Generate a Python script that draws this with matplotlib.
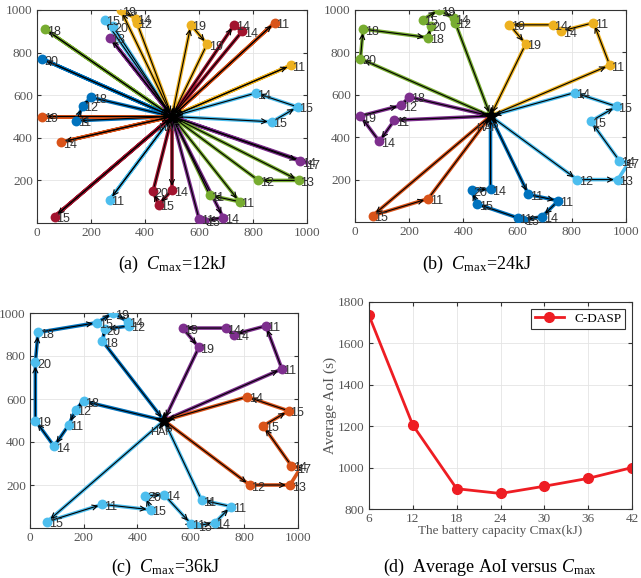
import matplotlib.pyplot as plt
import numpy as np

plt.rcParams['font.family'] = 'Liberation Serif'
plt.rcParams['mathtext.fontset'] = 'custom'
plt.rcParams['mathtext.rm'] = 'Liberation Serif'
plt.rcParams['mathtext.it'] = 'Liberation Serif:italic'

# MATLAB default colours
BLUE = '#0072BD'
ORANGE = '#D95319'
YELLOW = '#EDB120'
PURPLE = '#7E2F8E'
GREEN = '#77AC30'
LBLUE = '#4DBEEE'
RED = '#A2142F'

# ground nodes (x, y in m) and their labels
node_x = [30, 20, 250, 280, 310, 365, 370, 270, 570, 630,
          730, 760, 880, 940, 200, 170, 145, 20, 90, 810,
          965, 870, 975, 1010, 820, 970, 270, 65, 430, 500,
          450, 640, 750, 690, 600, 620]
node_y = [910, 770, 955, 925, 1000, 960, 940, 870, 930, 840,
          930, 900, 940, 740, 590, 550, 480, 500, 380, 610,
          545, 475, 290, 280, 200, 200, 110, 30, 150, 155,
          85, 130, 100, 25, 20, 10]
node_lbl = ['18', '20', '15', '20', '19', '14', '12', '18', '19', '19',
            '14', '14', '11', '11', '18', '12', '11', '19', '14', '14',
            '15', '15', '14', '17', '12', '13', '11', '15', '20', '14',
            '15', '11', '11', '14', '11', '15']
hap_x, hap_y = 500, 500

# trajectories: (line colour, marker colour, visiting order)
routes_a = [
    (GREEN, GREEN, [0]), (BLUE, BLUE, [1]), (LBLUE, LBLUE, [2, 3]),
    (YELLOW, YELLOW, [4, 5, 6]), (PURPLE, PURPLE, [7]),
    (YELLOW, YELLOW, [8, 9]), (RED, RED, [10, 11]), (ORANGE, ORANGE, [12]),
    (YELLOW, YELLOW, [13]), (LBLUE, LBLUE, [21, 20, 19]),
    (BLUE, BLUE, [16, 15, 14]), (ORANGE, ORANGE, [17]), (ORANGE, ORANGE, [18]),
    (PURPLE, PURPLE, [22, 23]), (GREEN, GREEN, [25, 24]),
    (LBLUE, LBLUE, [26]), (RED, RED, [27]), (RED, RED, [29, 30, 28]),
    (GREEN, GREEN, [32, 31]), (PURPLE, PURPLE, [33, 35, 34]),
]
routes_b = [
    (GREEN, GREEN, [1, 0, 7, 3, 2, 4, 5, 6]),
    (YELLOW, YELLOW, [13, 12, 11, 10, 8, 9]),
    (LBLUE, LBLUE, [24, 25, 23, 22, 21, 20, 19]),
    (PURPLE, PURPLE, [16, 18, 17, 15, 14]),
    (ORANGE, ORANGE, [27, 26]),
    (BLUE, BLUE, [31, 32, 33, 35, 34, 30, 28, 29]),
]
routes_c = [
    (BLUE, LBLUE, [14, 15, 16, 18, 17, 1, 0, 2, 4, 5, 6, 3, 7]),
    (PURPLE, PURPLE, [13, 12, 11, 10, 8, 9]),
    (ORANGE, ORANGE, [24, 25, 23, 22, 21, 20, 19]),
    (LBLUE, LBLUE, [27, 26, 30, 28, 29, 34, 35, 33, 32, 31]),
]

# average AoI versus battery capacity
cmax = [6, 12, 18, 24, 30, 36, 42]
aoi = [1735, 1205, 898, 875, 910, 948, 1000]

W, H = 641, 578
fig = plt.figure(figsize=(W / 100, H / 100), dpi=100)


def px_axes(l, t, r, b):
    return fig.add_axes([l / W, 1 - b / H, (r - l) / W, (b - t) / H])


def style(ax):
    ax.grid(True, color='#e4e4e4', lw=0.6)
    ax.set_axisbelow(True)
    ax.tick_params(direction='in', top=True, right=True, length=3,
                   labelsize=9.5, labelcolor='#555555', color='#333333', pad=3)
    for s in ax.spines.values():
        s.set_color('#333333')
        s.set_linewidth(0.8)


def draw_map(ax, routes):
    for line_c, mark_c, seq in routes:
        xs = [hap_x] + [node_x[i] for i in seq] + [hap_x]
        ys = [hap_y] + [node_y[i] for i in seq] + [hap_y]
        ax.plot(xs, ys, color=line_c, lw=2.6, zorder=2, solid_capstyle='round')
        for k in range(len(xs) - 1):
            ax.annotate('', xy=(xs[k + 1], ys[k + 1]), xytext=(xs[k], ys[k]),
                        arrowprops=dict(arrowstyle='->', color='k', lw=0.8,
                                        shrinkA=0, shrinkB=3, mutation_scale=9),
                        zorder=3)
        ax.scatter([node_x[i] for i in seq], [node_y[i] for i in seq],
                   s=50, color=mark_c, zorder=4, linewidths=0)
    for x, y, t in zip(node_x, node_y, node_lbl):
        ax.text(min(x + 6, 998), y - 12, t, fontsize=9, family='Liberation Sans',
                color='#333333', va='center', ha='left', zorder=5)
    ax.plot(hap_x, hap_y, marker='*', ms=13, color='k', zorder=6)
    ax.text(hap_x - 10, 445, 'HAP', fontsize=8, family='Liberation Sans',
            color='#333333', ha='center', va='center', zorder=6)
    ax.set_xlim(0, 1000)
    ax.set_ylim(0, 1000)
    ax.set_xticks(np.arange(0, 1001, 200))
    ax.set_yticks(np.arange(200, 1001, 200))
    style(ax)


ax_a = px_axes(37, 10, 307, 223)
draw_map(ax_a, routes_a)
ax_b = px_axes(355, 10, 626, 222)
draw_map(ax_b, routes_b)
ax_c = px_axes(30, 313, 298, 528)
draw_map(ax_c, routes_c)

ax_d = px_axes(369, 302, 632, 509)
ax_d.plot(cmax, aoi, color='#EE1D23', lw=2, marker='o', ms=7,
          label='C-DASP')
ax_d.set_xlim(6, 42)
ax_d.set_ylim(800, 1800)
ax_d.set_xticks(cmax)
ax_d.set_yticks(np.arange(800, 1801, 200))
style(ax_d)
ax_d.set_xlabel('The battery capacity Cmax(kJ)', fontsize=9.5,
                color='#555555', labelpad=0)
ax_d.set_ylabel('Average AoI (s)', fontsize=11, color='#555555', labelpad=1)
leg = ax_d.legend(loc='upper right', fontsize=9.5, fancybox=False,
                  edgecolor='#333333', handlelength=2.2, borderpad=0.3,
                  framealpha=1)
leg.get_frame().set_linewidth(0.8)

caps = [(172, 264, r'(a)  $C_{\rm max}$=12kJ'),
        (477, 264, r'(b)  $C_{\rm max}$=24kJ'),
        (165, 567, r'(c)  $C_{\rm max}$=36kJ'),
        (490, 567, r'(d)  Average AoI versus $C_{\rm max}$')]
for x, y, t in caps:
    fig.text(x / W, 1 - y / H, t, fontsize=13, ha='center', va='center')

fig.savefig('out.png', dpi=100)
